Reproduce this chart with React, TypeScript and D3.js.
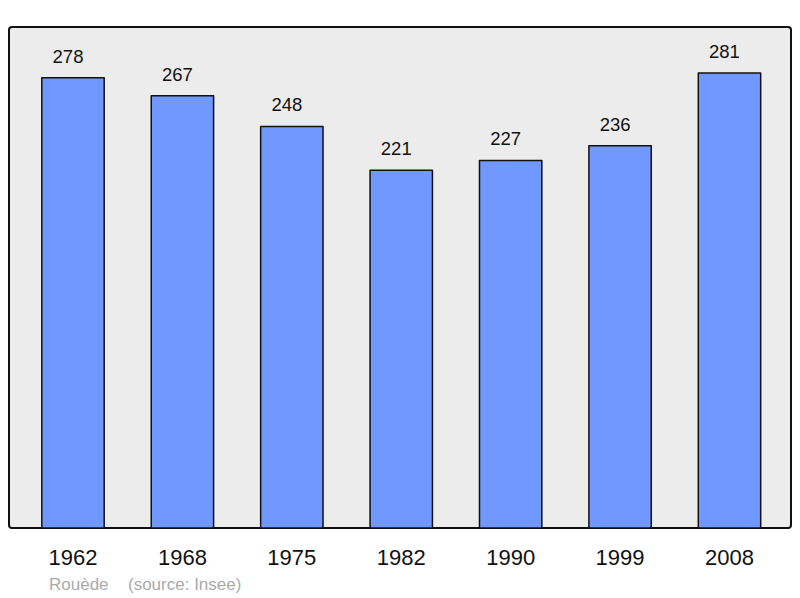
import React from "react";
import * as d3 from "d3";

const years = ["1962", "1968", "1975", "1982", "1990", "1999", "2008"];
const population = [278, 267, 248, 221, 227, 236, 281];
const footerAuthor = "Rouède";
const footerSource = "(source: Insee)";

export default function App() {
  const W = 800, H = 598;
  const panel = { x: 9, y: 27, w: 782, h: 501 };
  const x = d3.scaleBand<string>().domain(years).range([18.3, 784.2]).paddingInner(0.43).paddingOuter(0.215);
  const y = d3.scaleLinear().domain([0, 309.4]).range([528, 27]);
  const font = "'Liberation Sans', Arial, sans-serif";
  return (
    <svg width={W} height={H} style={{ position: "absolute", left: 0, top: 0 }}>
      <rect x={0} y={0} width={W} height={H} fill="#fff" />
      <rect x={panel.x} y={panel.y} width={panel.w} height={panel.h} rx={3} fill="#ececec" stroke="#111" strokeWidth={2} />
      {years.map((yr, i) => {
        const v = population[i];
        const bx = x(yr)!;
        const bw = x.bandwidth();
        return (
          <g key={yr}>
            <rect x={bx} y={y(v)} width={bw} height={528 - y(v)} fill="#7098ff" stroke="#111" strokeWidth={1.5} strokeLinejoin="round" />
            <text x={bx + bw / 2 - 5} y={y(v) - 15} textAnchor="middle" fontFamily={font} fontSize={18.5} fill="#111">{v}</text>
            <text x={bx + bw / 2} y={565} textAnchor="middle" fontFamily={font} fontSize={22} fill="#111">{yr}</text>
          </g>
        );
      })}
      <text x={49} y={590} fontFamily={font} fontSize={17} fill="#aaa">{footerAuthor}</text>
      <text x={128} y={590} fontFamily={font} fontSize={17} fill="#aaa">{footerSource}</text>
    </svg>
  );
}
